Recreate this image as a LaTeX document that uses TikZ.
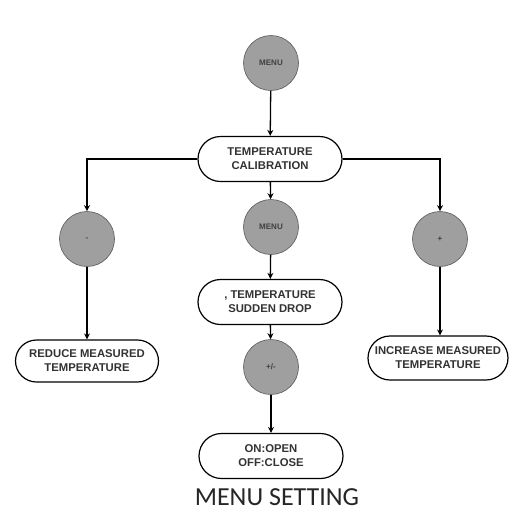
\documentclass[tikz,border=0pt]{standalone}
\usepackage{fontspec}
\setmainfont{Liberation Sans}
\newfontfamily\titlefont{Carlito}
\usetikzlibrary{positioning,arrows.meta,shapes.misc}

\begin{document}
\begin{tikzpicture}[->,>={Stealth[length=6pt,width=6pt]},x=1pt,y=-1pt,line width=1.3pt]
  \tikzstyle{key}=[circle,draw=gray!70!black,line width=0.6pt,fill=gray!75,minimum size=55pt,inner sep=0pt,font=\fontsize{8}{9}\selectfont\bfseries,text=black!75]
  \tikzstyle{state}=[rounded rectangle,draw,line width=1.2pt,minimum width=146pt,minimum height=45pt,align=center,inner sep=1pt,font=\fontsize{11.3}{14}\selectfont\bfseries,text=black!80]

  \useasboundingbox[fill=white] (0,0) rectangle (509,523);

  % main column
  \node[key] (menu) at (271,63) {MENU};
  \node[state] (calib) at (270,159) {TEMPERATURE\\CALIBRATION};
  \node[key] (menu2) at (271,227) {MENU};
  \node[state] (drop) at (270,302) {, TEMPERATURE\\SUDDEN DROP};
  \node[key] (onoff) at (271,367) {+/-};
  \node[state] (valve) at (271,456) {ON:OPEN\\OFF:CLOSE};

  % side branches
  \node[key] (minus) at (87,239) {-};
  \node[state,minimum width=145pt,minimum height=42pt] (reduce) at (87,361) {REDUCE MEASURED\\TEMPERATURE};
  \node[key] (plus) at (440,239) {+};
  \node[state,minimum width=140pt,minimum height=44pt,inner sep=0pt] (increase) at (438,358) {INCREASE MEASURED\\TEMPERATURE};

  \draw (menu) -- (calib);
  \draw (calib) -- (menu2);
  \draw (menu2) -- (drop);
  \draw (drop) -- (onoff);
  \draw (onoff) -- (valve);

  \draw (calib.west) -| (minus);
  \draw (minus) -- (reduce);
  \draw (calib.east) -| (plus);
  \draw (plus) -- (increase.north -| plus);

  \node[font=\titlefont\fontsize{26}{30}\selectfont,text=black!85] (title) at (277,497) {MENU SETTING};
\end{tikzpicture}
\end{document}
